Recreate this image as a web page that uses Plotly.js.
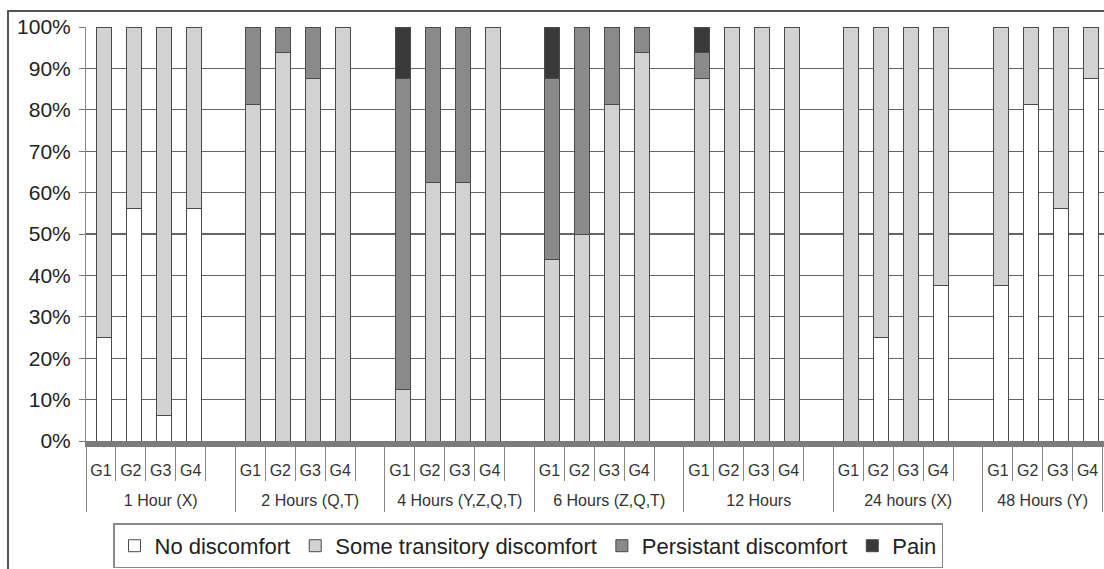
<!DOCTYPE html>
<html>
<head>
<meta charset="utf-8">
<script src="https://cdn.plot.ly/plotly-3.0.1.min.js"></script>
<style>
html,body{margin:0;padding:0;background:#fff;}
#wrap{position:relative;width:1104px;height:569px;}
#chart{width:1104px;height:569px;}
#frame{position:absolute;left:7px;top:10px;width:1110px;height:580px;border-left:2px solid #555;border-top:2px solid #555;pointer-events:none;z-index:10;}
</style>
</head>
<body>
<div id="wrap"><div id="chart"></div><div id="frame"></div></div>
<script>
// ---- data ----
const groups = ['1 Hour (X)', '2 Hours (Q,T)', '4 Hours (Y,Z,Q,T)', '6 Hours (Z,Q,T)', '12 Hours', '24 hours (X)', '48 Hours (Y)'];
const subgroups = ['G1', 'G2', 'G3', 'G4'];
const seriesNames = ['No discomfort', 'Some transitory discomfort', 'Persistant discomfort', 'Pain'];
const noDiscomfort   = [25, 56.25, 6.25, 56.25,   0, 0, 0, 0,   0, 0, 0, 0,   0, 0, 0, 0,   0, 0, 0, 0,   0, 25, 0, 37.5,   37.5, 81.25, 56.25, 87.5];
const someTransitory = [75, 43.75, 93.75, 43.75,   81.25, 93.75, 87.5, 100,   12.5, 62.5, 62.5, 100,   43.75, 50, 81.25, 93.75,   87.5, 100, 100, 100,   100, 75, 100, 62.5,   62.5, 18.75, 43.75, 12.5];
const persistent     = [0, 0, 0, 0,   18.75, 6.25, 12.5, 0,   75, 37.5, 37.5, 0,   43.75, 50, 18.75, 6.25,   6.25, 0, 0, 0,   0, 0, 0, 0,   0, 0, 0, 0];
const pain           = [0, 0, 0, 0,   0, 0, 0, 0,   12.5, 0, 0, 0,   12.5, 0, 0, 0,   6.25, 0, 0, 0,   0, 0, 0, 0,   0, 0, 0, 0];
// empty slot after G4 in every group (label is blank; its invisible extra line spaces the two label rows)
const blankSlot = '\u00a0<br>\u00a0';

// ---- styling ----
const colors = ['#ffffff', '#d2d2d2', '#8a8a8a', '#3a3a3a'];
const FONT = 'Liberation Sans, Arial, sans-serif';

const xGroup = [], xSub = [];
groups.forEach(g => subgroups.forEach(s => { xGroup.push(g); xSub.push(s); }));

const values = [noDiscomfort, someTransitory, persistent, pain];
const traces = values.map((v, i) => ({
  type: 'bar',
  name: seriesNames[i],
  x: [xGroup, xSub],
  y: v,
  width: 0.5,
  offset: -0.15,
  marker: {color: colors[i], line: {color: '#4a4a4a', width: 1}},
  hoverinfo: 'skip'
}));
traces.push({
  type: 'bar', x: [groups.slice(), groups.map(() => blankSlot)],
  y: groups.map(() => 0), showlegend: false, hoverinfo: 'skip',
  marker: {color: 'rgba(0,0,0,0)', line: {width: 0}}
});

const L = 86, W = 1104 - 86, T = 27, H = 422;
const layout = {
  width: 1104, height: 569,
  margin: {l: L, r: 0, t: T, b: 569 - T - H},
  paper_bgcolor: '#ffffff',
  plot_bgcolor: '#ffffff',
  barmode: 'stack',
  font: {family: FONT, color: '#333'},
  showlegend: true,
  legend: {
    orientation: 'h', x: (113 - L) / W, xanchor: 'left', y: (T + H - 533) / H, yanchor: 'top',
    bordercolor: '#888', borderwidth: 1.5, font: {size: 22, color: '#222', family: FONT},
    traceorder: 'normal', itemclick: false
  },
  xaxis: {
    type: 'multicategory', range: [-0.5, 33.55], tickangle: 0,
    tickson: 'boundaries', ticks: 'outside', ticklen: 34, tickcolor: '#888', tickwidth: 1,
    showdividers: true, dividercolor: '#888', dividerwidth: 1,
    tickfont: {size: 16, color: '#333', family: FONT}, ticklabelstandoff: 10,
    showgrid: false, showline: true, linecolor: '#7c7c7c', linewidth: 6, fixedrange: true
  },
  yaxis: {
    range: [0, 100], dtick: 10, ticksuffix: '%', showgrid: true, gridcolor: '#666', gridwidth: 1.3,
    zeroline: false, showline: true, linecolor: '#888', linewidth: 1, ticks: 'outside', ticklen: 6,
    tickcolor: '#777', tickfont: {size: 21, color: '#222', family: FONT}, ticklabelstandoff: 4,
    fixedrange: true
  }
};

Plotly.newPlot('chart', traces, layout, {displayModeBar: false, staticPlot: true});
</script>
</body>
</html>
